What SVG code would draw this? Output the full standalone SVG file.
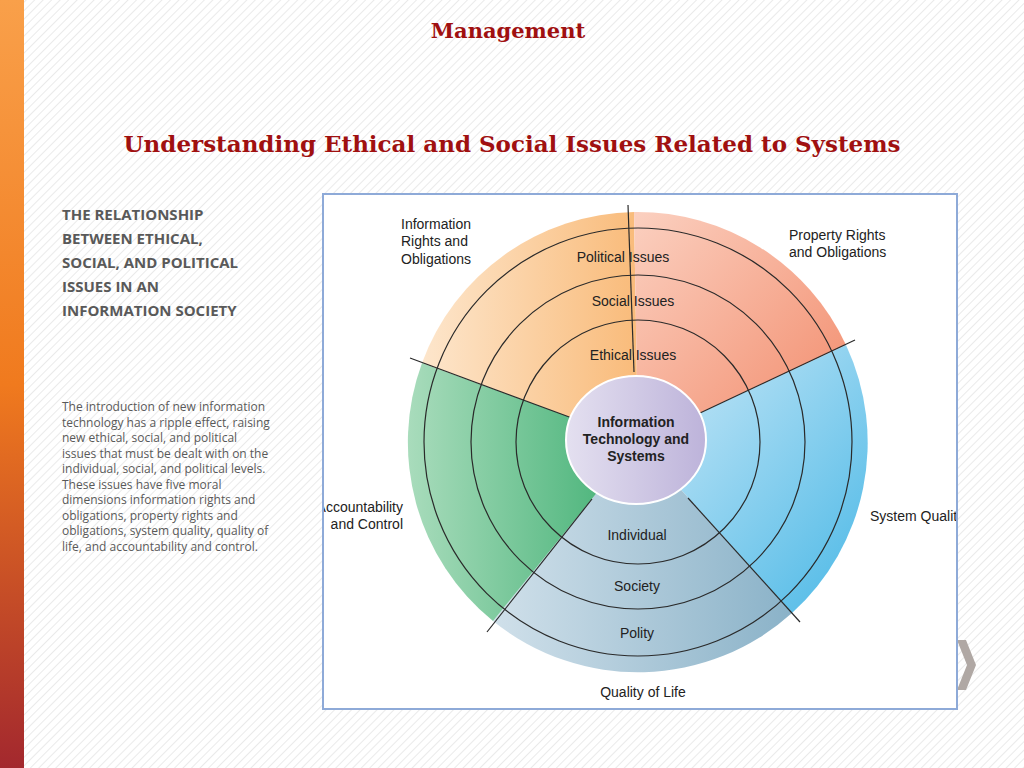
<svg xmlns="http://www.w3.org/2000/svg" width="1024" height="768" viewBox="0 0 1024 768">
<style>
.t{font-family:"Liberation Sans",Arial,sans-serif;font-size:14px;fill:#222}
.ring{fill:none;stroke:#2a2a2a;stroke-width:1.2}
.div{stroke:#2a2a2a;stroke-width:1.2}
.side{font-family:"Open Sans","Liberation Sans",sans-serif;fill:#595959}
</style>
<defs>
<pattern id="hatch" width="6" height="6" patternUnits="userSpaceOnUse" patternTransform="rotate(45)">
<rect width="6" height="6" fill="#fff"/><line x1="0" y1="0" x2="0" y2="6" stroke="#e4e4e4" stroke-width="1.5"/>
</pattern>
<linearGradient id="bar" x1="0" y1="0" x2="0" y2="1"><stop offset="0" stop-color="#f9a04a"/><stop offset="0.5" stop-color="#f07a1e"/><stop offset="1" stop-color="#a3282e"/></linearGradient>
<linearGradient id="gOr" x1="0" y1="0" x2="1" y2="0"><stop offset="0" stop-color="#fde6cc"/><stop offset="1" stop-color="#f9bb7a"/></linearGradient>
<linearGradient id="gSa" x1="0" y1="0" x2="1" y2="1"><stop offset="0" stop-color="#fbd0c0"/><stop offset="1" stop-color="#f28a6a"/></linearGradient>
<linearGradient id="gBl" x1="0" y1="0" x2="1" y2="1"><stop offset="0" stop-color="#cfeaf8"/><stop offset="1" stop-color="#4ab8e6"/></linearGradient>
<linearGradient id="gGy" x1="0" y1="0" x2="1" y2="0"><stop offset="0" stop-color="#d0e0ea"/><stop offset="1" stop-color="#8ab2c8"/></linearGradient>
<linearGradient id="gGr" x1="0" y1="0" x2="1" y2="0"><stop offset="0" stop-color="#a9dcbc"/><stop offset="1" stop-color="#3faf72"/></linearGradient>
<linearGradient id="gC" x1="0" y1="0" x2="1" y2="0"><stop offset="0" stop-color="#e4e0f0"/><stop offset="1" stop-color="#bdb3da"/></linearGradient>
<clipPath id="fr"><rect x="324" y="195" width="632" height="513"/></clipPath>
</defs>
<rect width="1024" height="768" fill="url(#hatch)"/>
<rect x="0" y="0" width="24" height="768" fill="url(#bar)"/>
<polygon points="957,640 966,640 976,665 966,690 957,690 967,665" fill="#b0a8a4"/>
<text x="508" y="38" text-anchor="middle" font-family="'DejaVu Serif','Liberation Serif',serif" font-weight="bold" font-size="21" fill="#a01010">Management</text>
<text x="512" y="152" text-anchor="middle" font-family="'DejaVu Serif','Liberation Serif',serif" font-weight="bold" font-size="23" fill="#a01010">Understanding Ethical and Social Issues Related to Systems</text>
<g id="heading" class="side" font-weight="bold" font-size="15">
<text x="62" y="220">THE RELATIONSHIP</text><text x="62" y="244">BETWEEN ETHICAL,</text><text x="62" y="268">SOCIAL, AND  POLITICAL</text><text x="62" y="292">ISSUES IN AN</text><text x="62" y="316">INFORMATION SOCIETY</text>
</g>
<g id="para" class="side" font-size="12">
<text x="62" y="411">The introduction of new information</text>
<text x="62" y="426.5">technology has a ripple effect, raising</text>
<text x="62" y="442">new ethical, social, and political</text>
<text x="62" y="457.5">issues that must be dealt with on the</text>
<text x="62" y="473">individual, social, and political levels.</text>
<text x="62" y="488.5">These issues have five moral</text>
<text x="62" y="504">dimensions information rights and</text>
<text x="62" y="519.5">obligations, property rights and</text>
<text x="62" y="535">obligations, system quality, quality of</text>
<text x="62" y="550.5">life, and accountability and control.</text>
</g>
<rect x="323" y="194" width="634" height="515" fill="#fff" stroke="#8eaad8" stroke-width="2"/>
<g clip-path="url(#fr)">
<g id="sectors">
<path d="M638,442 L422,363 A230,230 0 0 1 634,212 Z" fill="url(#gOr)"/>
<path d="M638,442 L634,212 A230,230 0 0 1 846,345 Z" fill="url(#gSa)"/>
<path d="M638,442 L846,345 A230,230 0 0 1 792,613 Z" fill="url(#gBl)"/>
<path d="M638,442 L792,613 A230,230 0 0 1 493,621 Z" fill="url(#gGy)"/>
<path d="M638,442 L493,621 A230,230 0 0 1 422,363 Z" fill="url(#gGr)"/>
</g>
<g id="connectors">
<circle class="ring" cx="638" cy="442" r="214"/>
<circle class="ring" cx="638" cy="442" r="167"/>
<circle class="ring" cx="638" cy="442" r="122"/>
<line class="div" x1="634" y1="372" x2="628" y2="205"/>
<line class="div" x1="572" y1="418" x2="410" y2="358"/>
<line class="div" x1="700" y1="413" x2="855" y2="340"/>
<line class="div" x1="688" y1="498" x2="800" y2="622"/>
<line class="div" x1="592" y1="499" x2="487" y2="632"/>
</g>
<g id="center">
<ellipse cx="636" cy="440" rx="70" ry="64" fill="url(#gC)" stroke="#fff" stroke-width="2"/>
<text class="t" x="636" y="427" text-anchor="middle" font-weight="bold">Information</text>
<text class="t" x="636" y="444" text-anchor="middle" font-weight="bold">Technology and</text>
<text class="t" x="636" y="461" text-anchor="middle" font-weight="bold">Systems</text>
</g>
<g id="labels">
<text class="t" x="623" y="262" text-anchor="middle">Political  Issues</text>
<text class="t" x="633" y="306" text-anchor="middle">Social  Issues</text>
<text class="t" x="633" y="360" text-anchor="middle">Ethical  Issues</text>
<text class="t" x="637" y="540" text-anchor="middle">Individual</text>
<text class="t" x="637" y="591" text-anchor="middle">Society</text>
<text class="t" x="637" y="638" text-anchor="middle">Polity</text>
<text class="t" x="643" y="697" text-anchor="middle">Quality of Life</text>
<text class="t" x="401" y="229">Information</text>
<text class="t" x="401" y="246">Rights and</text>
<text class="t" x="401" y="264">Obligations</text>
<text class="t" x="789" y="240">Property Rights</text>
<text class="t" x="789" y="257">and Obligations</text>
<text class="t" x="870" y="521">System Quality</text>
<text class="t" x="403" y="512" text-anchor="end">Accountability</text>
<text class="t" x="403" y="529" text-anchor="end">and Control</text>
</g>
</g>
</svg>
